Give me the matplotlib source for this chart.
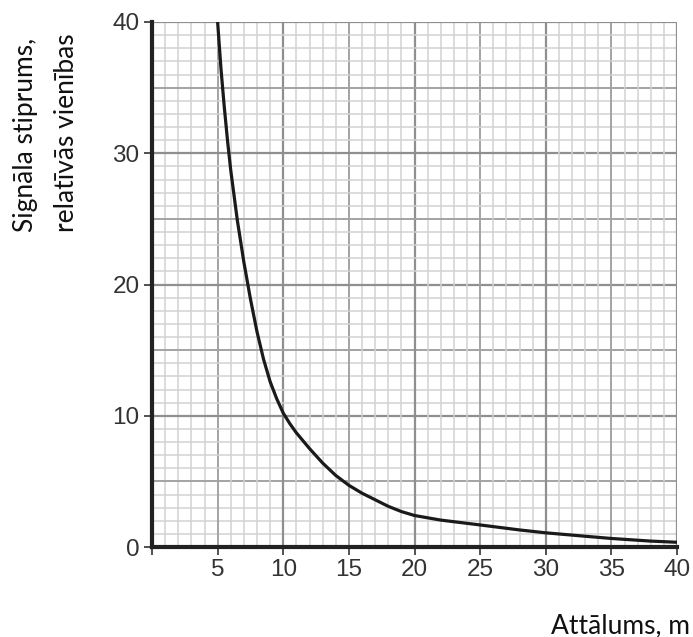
import matplotlib
matplotlib.use("Agg")
import matplotlib.pyplot as plt
import numpy as np

# Data
distance = [5, 5.25, 5.5, 5.75, 6, 6.5, 7, 7.5, 8, 8.5, 9, 9.5, 10, 10.5, 11, 12, 13,
            14, 15, 16, 17, 18, 19, 20, 22, 25, 28, 30, 33, 35, 38, 40]
signal = [40, 36.5, 33.6, 31.0, 28.7, 24.9, 21.7, 18.9, 16.4, 14.3, 12.6, 11.3, 10.2,
          9.4, 8.7, 7.5, 6.4, 5.45, 4.7, 4.1, 3.6, 3.1, 2.7, 2.4, 2.05, 1.68, 1.3,
          1.08, 0.82, 0.65, 0.45, 0.36]
x_ticks = [5, 10, 15, 20, 25, 30, 35, 40]
y_ticks = [0, 10, 20, 30, 40]
y_label_lines = ["Signāla stiprums,", "relatīvās vienības"]
x_label = "Attālums, m"

fig = plt.figure(figsize=(6.93, 6.37), dpi=100)
ax = fig.add_axes([152/693, 1-547/637, (677-152)/693, (547-22)/637])

ax.set_xlim(0, 40)
ax.set_ylim(0, 40)

# grid lines: 1-unit light, 5-unit medium, 10-unit dark
for v in range(0, 41):
    if v % 10 == 0:
        c, lw = "#8f8f8f", 1.6
    elif v % 5 == 0:
        c, lw = "#a3a3a3", 1.4
    else:
        c, lw = "#d2d2d2", 1.1
    if v > 0:
        ax.axvline(v, color=c, lw=lw, zorder=1)
        ax.axhline(v, color=c, lw=lw, zorder=1)

ax.plot(distance, signal, color="#1a1a1a", lw=2.3, zorder=3, solid_capstyle="butt",
        solid_joinstyle="round")

for s in ["top", "right"]:
    ax.spines[s].set_visible(False)
for s in ["left", "bottom"]:
    ax.spines[s].set_linewidth(3)
    ax.spines[s].set_color("#222222")
    ax.spines[s].set_zorder(4)

ax.set_xticks([0] + x_ticks)
ax.set_xticklabels([""] + [str(t) for t in x_ticks])
ax.set_yticks(y_ticks)
ax.set_yticklabels([str(t) for t in y_ticks])
ax.tick_params(axis="both", direction="out", length=6, width=1.2, color="#333333",
               labelsize=17.5, labelcolor="#333333", pad=3)
for lab in ax.get_xticklabels() + ax.get_yticklabels():
    lab.set_family("Liberation Sans")

fig.text(26/693, 1-232/637, y_label_lines[0], rotation=90,
         ha="center", va="bottom", fontsize=19, family="Lato", color="#111111")
fig.text(67/693, 1-232/637, y_label_lines[1], rotation=90,
         ha="center", va="bottom", fontsize=19, family="Lato", color="#111111")
fig.text(690/693, 1-633/637, x_label, ha="right", va="baseline", fontsize=19,
         family="Lato", color="#111111")

fig.savefig("out.png", dpi=100)
